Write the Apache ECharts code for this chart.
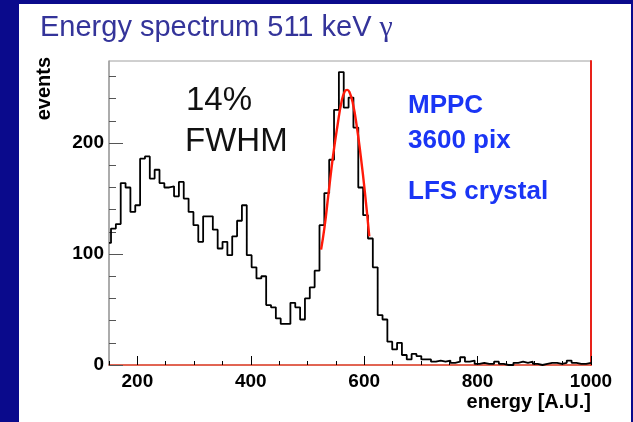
<!DOCTYPE html>
<html>
<head>
<meta charset="utf-8">
<script src="https://cdn.jsdelivr.net/npm/echarts@6/dist/echarts.min.js"></script>
<style>
html, body { margin: 0; padding: 0; background: #0a0a8c; }
#chart { width: 633px; height: 422px; }
</style>
</head>
<body>
<div id="chart"></div>
<script>
// histogram: partial first bin (150..binLow) then full bins of binWidth up to 1000
const binLow = 153.55;
const binWidth = 8.55;
const firstBin = 110;
const counts = [
    123, 127, 164, 160, 138, 144, 186, 188, 168, 176,
    164, 160, 161, 152, 165, 150, 138, 126, 111, 134,
    134, 122, 105, 111, 99, 116, 130, 144, 99, 88,
    78, 80, 54, 52, 42, 37, 37, 56, 52, 41,
    60, 70, 85, 126, 155, 185, 230, 264, 232, 241,
    214, 160, 135, 114, 88, 45, 41, 21, 14, 20,
    9, 5, 10, 8, 5, 5, 3, 4, 3, 4,
    2, 3, 7, 3, 4, 1, 2, 1, 1, 3,
    1, 0, 0, 2, 3, 2, 3, 1, 0, 1,
    2, 2, 1, 2, 4, 2, 1, 1, 2
];
// gaussian fit curve
const fitX = [524, 530, 537, 545, 553, 560, 566, 570, 574, 580, 587, 594, 601, 609];
const fitY = [104, 124, 154, 188, 216, 237, 247, 248, 246, 236, 215, 188, 157, 116];

const xMajor = [200, 400, 600, 800, 1000];
const xMinor = [150, 250, 300, 350, 450, 500, 550, 650, 700, 750, 850, 900, 950];
const yMajor = [0, 100, 200];
const yMinor = [20, 40, 60, 80, 120, 140, 160, 180, 220, 240, 260];

const histPts = [[150, firstBin]];
counts.forEach((c, i) => histPts.push([binLow + i * binWidth, c]));
histPts.push([1000, counts[counts.length - 1]]);
const fitPts = fitX.map((x, i) => [x, fitY[i]]);

const FONT = '"Liberation Sans", Arial, Helvetica, sans-serif';
const chart = echarts.init(document.getElementById('chart'));

const labelStyle = {
    color: '#000', fontFamily: FONT, fontWeight: 'bold', fontSize: 19,
    formatter: v => String(v)
};

const option = {
    animation: false,
    backgroundColor: '#0a0a8c',
    grid: {
        left: 109, right: 42, top: 61, bottom: 57,
        show: true, backgroundColor: '#fff', borderColor: '#a0a0a0', borderWidth: 1
    },
    xAxis: [
        {
            type: 'value', min: 150, max: 1000, position: 'bottom',
            axisLine: {show: true, lineStyle: {color: '#e8422a', width: 1.5}},
            axisTick: {show: true, inside: true, length: 9, customValues: xMajor, lineStyle: {color: '#000'}},
            axisLabel: Object.assign({customValues: xMajor, margin: 7}, labelStyle),
            splitLine: {show: false}
        },
        {
            type: 'value', min: 150, max: 1000, position: 'bottom',
            axisLine: {show: false},
            axisTick: {show: true, inside: true, length: 4, customValues: xMinor, lineStyle: {color: '#000'}},
            axisLabel: {show: false},
            splitLine: {show: false}
        }
    ],
    yAxis: [
        {
            type: 'value', min: 0, max: 274, position: 'left',
            axisLine: {show: true, lineStyle: {color: '#a0a0a0', width: 1.5}},
            axisTick: {show: true, inside: true, length: 14, customValues: yMajor, lineStyle: {color: '#555'}},
            axisLabel: Object.assign({customValues: yMajor, margin: 5}, labelStyle),
            splitLine: {show: false}
        },
        {
            type: 'value', min: 0, max: 274, position: 'left',
            axisLine: {show: false},
            axisTick: {show: true, inside: true, length: 7, customValues: yMinor, lineStyle: {color: '#555'}},
            axisLabel: {show: false},
            splitLine: {show: false}
        },
        {
            type: 'value', min: 0, max: 274, position: 'right',
            axisLine: {show: true, lineStyle: {color: '#e8221a', width: 2}},
            axisTick: {show: false},
            axisLabel: {show: false},
            splitLine: {show: false}
        }
    ],
    series: [
        {
            name: 'events', type: 'line', step: 'end',
            xAxisIndex: 0, yAxisIndex: 0,
            data: histPts, symbol: 'none',
            lineStyle: {color: '#000', width: 1.8}
        },
        {
            name: 'fit', type: 'line', smooth: 0.5,
            xAxisIndex: 0, yAxisIndex: 0,
            data: fitPts, symbol: 'none',
            lineStyle: {color: '#ff1a0a', width: 2.4}
        }
    ],
    graphic: [
        {type: 'rect', z: -10, silent: true, shape: {x: 19, y: 4, width: 612, height: 418}, style: {fill: '#fff'}},
        {
            type: 'text', x: 40, y: 28,
            style: {
                text: 'Energy spectrum 511 keV {g|γ}',
                rich: {g: {fontFamily: '"Liberation Serif", "DejaVu Serif", serif', fontSize: 30, fill: '#34349a'}},
                font: '29px ' + FONT, fill: '#34349a', verticalAlign: 'middle'
            }
        },
        {
            type: 'text', x: 44, y: 57, rotation: Math.PI / 2,
            style: {text: 'events', font: 'bold 20px ' + FONT, fill: '#000', align: 'right', verticalAlign: 'middle'}
        },
        {
            type: 'text', x: 591, y: 402,
            style: {text: 'energy [A.U.]', font: 'bold 20px ' + FONT, fill: '#000', align: 'right', verticalAlign: 'middle'}
        },
        {type: 'text', x: 186, y: 101, style: {text: '14%', font: '33px ' + FONT, fill: '#111', verticalAlign: 'middle'}},
        {type: 'text', x: 185, y: 142, style: {text: 'FWHM', font: '33px ' + FONT, fill: '#111', verticalAlign: 'middle'}},
        {type: 'text', x: 408, y: 106, style: {text: 'MPPC', font: 'bold 26px ' + FONT, fill: '#1a35f5', verticalAlign: 'middle'}},
        {type: 'text', x: 408, y: 141, style: {text: '3600 pix', font: 'bold 26px ' + FONT, fill: '#1a35f5', verticalAlign: 'middle'}},
        {type: 'text', x: 408, y: 192, style: {text: 'LFS crystal', font: 'bold 26px ' + FONT, fill: '#1a35f5', verticalAlign: 'middle'}}
    ]
};

chart.setOption(option);
</script>
</body>
</html>
